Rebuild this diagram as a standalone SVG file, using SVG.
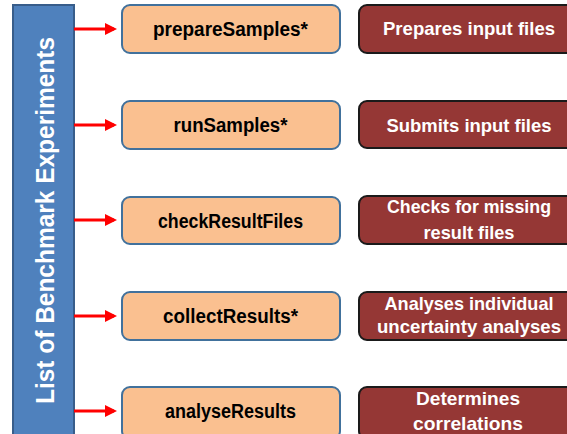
<svg xmlns="http://www.w3.org/2000/svg" width="567" height="434" viewBox="0 0 567 434">
<defs>
<style>
.bar{fill:#4F81BD;stroke:#385D8A;stroke-width:2}
.step{fill:#FAC090;stroke:#41719C;stroke-width:2}
.desc{fill:#953735;stroke:#1a1a1a;stroke-width:2}
.t{font-family:"Liberation Sans",Arial,sans-serif;font-weight:bold;text-anchor:middle}
.st{font-size:19.5px;fill:#000}
.dt{font-size:18.5px;fill:#fff}
.bt{font-size:26px;fill:#fff}
.arr{stroke:#FF0000;stroke-width:3;fill:none;marker-end:url(#ah)}
</style>
<marker id="ah" markerWidth="4" markerHeight="4" refX="3" refY="2" orient="auto" markerUnits="strokeWidth">
<path d="M0,0 L4,2 L0,4 Z" fill="#FF0000"/>
</marker>
</defs>
<g id="list">
<rect class="bar" x="13" y="5" width="61" height="440"/>
<text class="t bt" transform="translate(53.5,220.5) rotate(-90)" textLength="367" lengthAdjust="spacingAndGlyphs">List of Benchmark Experiments</text>
</g>
<g id="connectors">
<line class="arr" x1="74" y1="29" x2="114" y2="29"/>
<line class="arr" x1="74" y1="125" x2="114" y2="125"/>
<line class="arr" x1="74" y1="220" x2="114" y2="220"/>
<line class="arr" x1="74" y1="316" x2="114" y2="316"/>
<line class="arr" x1="74" y1="411" x2="114" y2="411"/>
</g>
<g id="prepareSamples">
<rect class="step" x="122" y="5" width="218" height="48" rx="8"/>
<text class="t st" x="230.5" y="36" textLength="155" lengthAdjust="spacingAndGlyphs">prepareSamples*</text>
</g>
<g id="runSamples">
<rect class="step" x="122" y="101" width="218" height="48" rx="8"/>
<text class="t st" x="230.5" y="132" textLength="114" lengthAdjust="spacingAndGlyphs">runSamples*</text>
</g>
<g id="checkResultFiles">
<rect class="step" x="122" y="197" width="218" height="47" rx="8"/>
<text class="t st" x="230.5" y="227.5" textLength="145" lengthAdjust="spacingAndGlyphs">checkResultFiles</text>
</g>
<g id="collectResults">
<rect class="step" x="122" y="292" width="218" height="48" rx="8"/>
<text class="t st" x="230.5" y="323" textLength="135" lengthAdjust="spacingAndGlyphs">collectResults*</text>
</g>
<g id="analyseResults">
<rect class="step" x="122" y="387" width="218" height="52" rx="8"/>
<text class="t st" x="230.5" y="418" textLength="131" lengthAdjust="spacingAndGlyphs">analyseResults</text>
</g>
<g id="desc1">
<rect class="desc" x="359" y="5" width="222" height="48" rx="8"/>
<text class="t dt" x="469" y="35" textLength="172" lengthAdjust="spacingAndGlyphs">Prepares input files</text>
</g>
<g id="desc2">
<rect class="desc" x="359" y="101" width="222" height="47" rx="8"/>
<text class="t dt" x="469" y="131.5" textLength="165" lengthAdjust="spacingAndGlyphs">Submits input files</text>
</g>
<g id="desc3">
<rect class="desc" x="359" y="196" width="222" height="48" rx="8"/>
<text class="t dt" x="469" y="213" textLength="164" lengthAdjust="spacingAndGlyphs">Checks for missing</text>
<text class="t dt" x="469" y="239" textLength="91" lengthAdjust="spacingAndGlyphs">result files</text>
</g>
<g id="desc4">
<rect class="desc" x="359" y="292" width="222" height="48" rx="8"/>
<text class="t dt" x="469" y="310" textLength="169" lengthAdjust="spacingAndGlyphs">Analyses individual</text>
<text class="t dt" x="469" y="333" textLength="184" lengthAdjust="spacingAndGlyphs">uncertainty analyses</text>
</g>
<g id="desc5">
<rect class="desc" x="359" y="387" width="222" height="52" rx="8"/>
<text class="t dt" x="468" y="405" textLength="104" lengthAdjust="spacingAndGlyphs">Determines</text>
<text class="t dt" x="468" y="430" textLength="110" lengthAdjust="spacingAndGlyphs">correlations</text>
</g>
</svg>
